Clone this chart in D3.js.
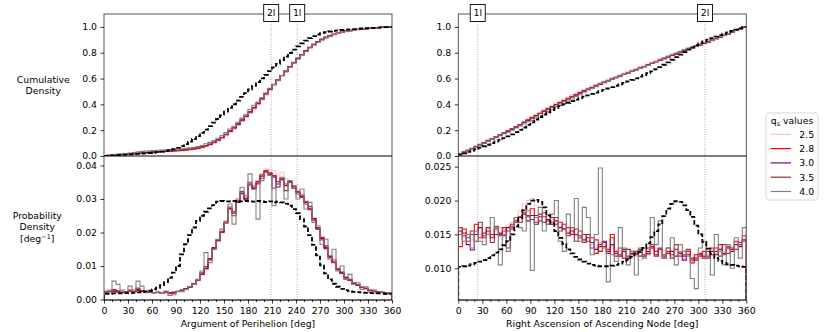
<!DOCTYPE html>
<html>
<head>
<meta charset="utf-8">
<script src="https://cdn.jsdelivr.net/npm/d3@7"></script>
<style>
  body { margin: 0; background: #fff; }
  svg { display: block; font-family: "DejaVu Sans", sans-serif; }
</style>
</head>
<body>
<svg id="chart" width="830" height="332"></svg>
<script>
// ---------- data (5 deg bins) ----------
const binStarts = d3.range(0, 360, 5);
const xTicks = [0, 30, 60, 90, 120, 150, 180, 210, 240, 270, 300, 330, 360];
const cdfTicks = [0, 0.2, 0.4, 0.6, 0.8, 1.0];
const periPdfTicks = [0, 0.01, 0.02, 0.03, 0.04];
const nodePdfTicks = [0.010, 0.015, 0.020, 0.025];

const qLabels = ["2.5", "2.8", "3.0", "3.5", "4.0"];
const qColors = ["#ffc0cb", "#ff0000", "#800080", "#a52a2a", "#808080"];

// vertical markers
const periMarks = [209, 241.5];
const periMarkLabels = ["2l", "1l"];
const nodeMarks = [24.3, 308.4];
const nodeMarkLabels = ["1l", "2l"];

// Argument of perihelion, probability density [deg^-1]
const periRef = [
  0.0017,0.0017,0.0018,0.0018,0.0018,0.0019,0.0019,0.0020,0.0021,0.0022,0.0024,0.0026,
  0.0030,0.0035,0.0043,0.0052,0.0065,0.0080,0.0100,0.0135,0.0165,0.0192,0.0215,0.0235,
  0.0250,0.0262,0.0272,0.0282,0.0292,0.0294,0.0293,0.0293,0.0294,0.0292,0.0293,0.0294,
  0.0293,0.0292,0.0294,0.0293,0.0291,0.0293,0.0290,0.0292,0.0290,0.0286,0.0280,0.0270,
  0.0258,0.0240,0.0218,0.0192,0.0163,0.0132,0.0102,0.0078,0.0060,0.0047,0.0038,0.0032,
  0.0028,0.0025,0.0023,0.0022,0.0021,0.0020,0.0019,0.0019,0.0018,0.0018,0.0017,0.0017
];
const peri25 = [
  0.0021,0.0022,0.0022,0.0023,0.0022,0.0022,0.0023,0.0024,0.0024,0.0023,0.0022,0.0021,
  0.0021,0.0020,0.0020,0.0020,0.0021,0.0021,0.0023,0.0026,0.0030,0.0036,0.0045,0.0056,
  0.0073,0.0090,0.0117,0.0150,0.0176,0.0205,0.0235,0.0268,0.0265,0.0290,0.0315,0.0305,
  0.0338,0.0335,0.0355,0.0375,0.0390,0.0388,0.0385,0.0372,0.0380,0.0360,0.0355,0.0340,
  0.0325,0.0310,0.0295,0.0270,0.0245,0.0215,0.0188,0.0158,0.0132,0.0112,0.0095,0.0080,
  0.0068,0.0058,0.0050,0.0043,0.0037,0.0033,0.0029,0.0026,0.0023,0.0021,0.0020,0.0019
];
const peri28 = [
  0.0022,0.0023,0.0024,0.0022,0.0021,0.0023,0.0025,0.0023,0.0027,0.0024,0.0021,0.0022,
  0.0020,0.0021,0.0019,0.0021,0.0020,0.0022,0.0024,0.0027,0.0032,0.0037,0.0046,0.0058,
  0.0075,0.0092,0.0120,0.0152,0.0178,0.0203,0.0232,0.0272,0.0262,0.0292,0.0318,0.0302,
  0.0342,0.0332,0.0352,0.0372,0.0385,0.0378,0.0370,0.0352,0.0362,0.0345,0.0352,0.0336,
  0.0322,0.0308,0.0292,0.0272,0.0242,0.0212,0.0185,0.0152,0.0130,0.0110,0.0092,0.0078,
  0.0066,0.0057,0.0049,0.0042,0.0037,0.0032,0.0028,0.0025,0.0023,0.0021,0.0020,0.0019
];
const peri30 = [
  0.0022,0.0024,0.0026,0.0023,0.0021,0.0022,0.0026,0.0024,0.0030,0.0025,0.0021,0.0023,
  0.0020,0.0021,0.0018,0.0022,0.0019,0.0021,0.0024,0.0028,0.0033,0.0037,0.0047,0.0058,
  0.0076,0.0093,0.0122,0.0155,0.0176,0.0200,0.0230,0.0270,0.0258,0.0290,0.0316,0.0298,
  0.0345,0.0330,0.0348,0.0368,0.0380,0.0374,0.0366,0.0336,0.0358,0.0340,0.0350,0.0332,
  0.0320,0.0305,0.0290,0.0268,0.0240,0.0210,0.0182,0.0155,0.0128,0.0112,0.0090,0.0080,
  0.0064,0.0058,0.0048,0.0043,0.0036,0.0033,0.0027,0.0026,0.0022,0.0021,0.0019,0.0019
];
const peri35 = [
  0.0023,0.0024,0.0030,0.0026,0.0022,0.0021,0.0028,0.0024,0.0034,0.0027,0.0021,0.0023,
  0.0020,0.0022,0.0018,0.0023,0.0017,0.0019,0.0024,0.0026,0.0031,0.0038,0.0046,0.0059,
  0.0080,0.0098,0.0118,0.0150,0.0175,0.0202,0.0228,0.0276,0.0250,0.0295,0.0322,0.0300,
  0.0350,0.0335,0.0345,0.0362,0.0382,0.0375,0.0332,0.0345,0.0360,0.0325,0.0352,0.0338,
  0.0315,0.0312,0.0285,0.0278,0.0235,0.0215,0.0178,0.0160,0.0125,0.0118,0.0088,0.0082,
  0.0062,0.0060,0.0046,0.0044,0.0035,0.0034,0.0026,0.0027,0.0021,0.0022,0.0018,0.0020
];
const peri40 = [
  0.0025,0.0028,0.0055,0.0045,0.0028,0.0020,0.0040,0.0028,0.0055,0.0040,0.0020,0.0028,
  0.0020,0.0022,0.0018,0.0025,0.0012,0.0014,0.0025,0.0023,0.0030,0.0038,0.0045,0.0060,
  0.0085,0.0140,0.0110,0.0150,0.0180,0.0210,0.0230,0.0285,0.0225,0.0300,0.0335,0.0310,
  0.0375,0.0340,0.0240,0.0355,0.0380,0.0370,0.0280,0.0345,0.0365,0.0300,0.0355,0.0340,
  0.0300,0.0330,0.0270,0.0290,0.0230,0.0220,0.0165,0.0180,0.0120,0.0150,0.0085,0.0100,
  0.0060,0.0075,0.0045,0.0050,0.0030,0.0038,0.0022,0.0028,0.0018,0.0022,0.0015,0.0020
];

// Right ascension of ascending node, probability density [deg^-1]
const nodeRef = [
  0.0102,0.0103,0.0104,0.0106,0.0108,0.0110,0.0112,0.0115,0.0119,0.0123,0.0128,0.0134,
  0.0140,0.0150,0.0162,0.0174,0.0186,0.0195,0.0200,0.0201,0.0198,0.0190,0.0178,0.0166,
  0.0155,0.0145,0.0136,0.0128,0.0122,0.0117,0.0113,0.0110,0.0107,0.0105,0.0104,0.0103,
  0.0103,0.0103,0.0104,0.0105,0.0107,0.0110,0.0113,0.0117,0.0122,0.0124,0.0130,0.0137,
  0.0146,0.0155,0.0165,0.0177,0.0188,0.0195,0.0199,0.0198,0.0193,0.0186,0.0176,0.0163,
  0.0150,0.0139,0.0129,0.0121,0.0115,0.0111,0.0108,0.0106,0.0105,0.0104,0.0103,0.0102
];
const node25 = [
  0.0150,0.0145,0.0148,0.0142,0.0155,0.0150,0.0140,0.0152,0.0148,0.0155,0.0160,0.0158,
  0.0162,0.0168,0.0172,0.0185,0.0195,0.0200,0.0203,0.0192,0.0190,0.0185,0.0180,0.0172,
  0.0170,0.0162,0.0165,0.0155,0.0152,0.0148,0.0145,0.0140,0.0150,0.0135,0.0130,0.0138,
  0.0135,0.0128,0.0132,0.0120,0.0125,0.0118,0.0128,0.0122,0.0118,0.0112,0.0120,0.0128,
  0.0122,0.0130,0.0118,0.0126,0.0122,0.0118,0.0125,0.0120,0.0115,0.0122,0.0110,0.0118,
  0.0115,0.0122,0.0120,0.0128,0.0122,0.0130,0.0125,0.0128,0.0132,0.0138,0.0140,0.0145
];
const node28 = [
  0.0132,0.0158,0.0140,0.0150,0.0165,0.0145,0.0152,0.0160,0.0150,0.0158,0.0150,0.0160,
  0.0155,0.0162,0.0170,0.0176,0.0185,0.0178,0.0188,0.0178,0.0180,0.0176,0.0170,0.0175,
  0.0165,0.0168,0.0158,0.0160,0.0150,0.0158,0.0145,0.0150,0.0140,0.0145,0.0122,0.0135,
  0.0138,0.0122,0.0150,0.0125,0.0120,0.0128,0.0118,0.0125,0.0122,0.0128,0.0120,0.0130,
  0.0132,0.0125,0.0130,0.0118,0.0125,0.0120,0.0128,0.0122,0.0118,0.0125,0.0112,0.0120,
  0.0118,0.0125,0.0118,0.0130,0.0125,0.0135,0.0120,0.0132,0.0128,0.0140,0.0135,0.0148
];
const node30 = [
  0.0155,0.0148,0.0135,0.0127,0.0150,0.0160,0.0148,0.0155,0.0145,0.0150,0.0152,0.0148,
  0.0160,0.0158,0.0168,0.0175,0.0180,0.0170,0.0178,0.0165,0.0176,0.0168,0.0172,0.0165,
  0.0170,0.0160,0.0158,0.0152,0.0155,0.0150,0.0148,0.0142,0.0145,0.0138,0.0128,0.0132,
  0.0140,0.0125,0.0135,0.0122,0.0118,0.0125,0.0115,0.0122,0.0120,0.0126,0.0118,0.0125,
  0.0130,0.0120,0.0128,0.0115,0.0122,0.0125,0.0118,0.0124,0.0112,0.0120,0.0115,0.0112,
  0.0120,0.0118,0.0115,0.0125,0.0120,0.0128,0.0122,0.0130,0.0125,0.0135,0.0132,0.0142
];
const node35 = [
  0.0160,0.0152,0.0145,0.0155,0.0140,0.0168,0.0145,0.0160,0.0138,0.0162,0.0148,0.0155,
  0.0130,0.0165,0.0175,0.0168,0.0182,0.0176,0.0172,0.0168,0.0170,0.0182,0.0165,0.0168,
  0.0175,0.0155,0.0165,0.0148,0.0160,0.0140,0.0155,0.0138,0.0150,0.0130,0.0142,0.0125,
  0.0132,0.0128,0.0145,0.0118,0.0130,0.0115,0.0128,0.0120,0.0125,0.0118,0.0130,0.0122,
  0.0135,0.0118,0.0128,0.0120,0.0130,0.0115,0.0135,0.0118,0.0120,0.0128,0.0108,0.0115,
  0.0122,0.0115,0.0125,0.0120,0.0130,0.0118,0.0135,0.0122,0.0130,0.0128,0.0138,0.0140
];
const node40 = [
  0.0150,0.0140,0.0150,0.0130,0.0155,0.0140,0.0135,0.0150,0.0175,0.0160,0.0105,0.0150,
  0.0125,0.0160,0.0175,0.0160,0.0155,0.0185,0.0097,0.0175,0.0190,0.0155,0.0165,0.0180,
  0.0200,0.0140,0.0125,0.0180,0.0160,0.0203,0.0140,0.0190,0.0175,0.0120,0.0150,0.0248,
  0.0130,0.0080,0.0120,0.0110,0.0160,0.0130,0.0105,0.0125,0.0090,0.0130,0.0115,0.0120,
  0.0175,0.0135,0.0170,0.0115,0.0130,0.0145,0.0105,0.0135,0.0125,0.0118,0.0085,0.0070,
  0.0130,0.0140,0.0115,0.0090,0.0150,0.0125,0.0105,0.0135,0.0100,0.0145,0.0115,0.0160
];

// ---------- layout ----------
const cdfTop = 14, split = 156, pdfBottom = 300;
const fontSize = 9.3;

const columns = [
  {
    id: "peri", left: 104, right: 392,
    ref: periRef, series: [peri25, peri28, peri30, peri35, peri40],
    pdfDomain: [-0.00015, 0.04284], pdfTicks: periPdfTicks, pdfFormat: ".2f",
    marks: periMarks, markLabels: periMarkLabels,
    xLabel: "Argument of Perihelion [deg]"
  },
  {
    id: "node", left: 458.3, right: 746.3,
    ref: nodeRef, series: [node25, node28, node30, node35, node40],
    pdfDomain: [0.00532, 0.02658], pdfTicks: nodePdfTicks, pdfFormat: ".3f",
    marks: nodeMarks, markLabels: nodeMarkLabels,
    xLabel: "Right Ascension of Ascending Node [deg]"
  }
];

const svg = d3.select("#chart");
const defs = svg.append("defs");

function toCdf(vals) {
  const cs = Array.from(d3.cumsum(vals));
  const total = cs[cs.length - 1];
  return cs.map((v) => v / total);
}

function pdfPoints(vals) {
  const pts = [[0, 0]];
  vals.forEach((v, i) => pts.push([binStarts[i], v]));
  pts.push([360, vals[vals.length - 1]]);
  pts.push([360, 0]);
  return pts;
}

function cdfPoints(vals) {
  const c = toCdf(vals);
  const pts = [[0, 0]];
  c.forEach((v, i) => pts.push([binStarts[i], v]));
  pts.push([360, 1]);
  return pts;
}

function styleAxis(g) {
  g.select(".domain").remove();
  g.selectAll("line").attr("stroke", "#000").attr("stroke-width", 0.8);
  g.selectAll("text")
    .attr("font-size", fontSize)
    .attr("font-family", "DejaVu Sans, sans-serif")
    .attr("fill", "#000");
}

columns.forEach((cfg) => {
  const x = d3.scaleLinear().domain([0, 360]).range([cfg.left, cfg.right]);
  const yC = d3.scaleLinear().domain([0, 1.1]).range([split, cdfTop]);
  const yP = d3.scaleLinear().domain(cfg.pdfDomain).range([pdfBottom, split]);
  const w = cfg.right - cfg.left;

  // clip regions
  defs.append("clipPath").attr("id", `clip-${cfg.id}-cdf`)
    .append("rect").attr("x", cfg.left).attr("y", cdfTop).attr("width", w).attr("height", split - cdfTop);
  defs.append("clipPath").attr("id", `clip-${cfg.id}-pdf`)
    .append("rect").attr("x", cfg.left).attr("y", split).attr("width", w).attr("height", pdfBottom - split);

  const g = svg.append("g");

  // dotted marker lines through both panels
  g.selectAll(".mark")
    .data(cfg.marks)
    .enter()
    .append("line")
    .attr("x1", (d) => x(d)).attr("x2", (d) => x(d))
    .attr("y1", cdfTop).attr("y2", pdfBottom)
    .attr("stroke", "#aaa")
    .attr("stroke-width", 1)
    .attr("stroke-dasharray", "1,1.5");

  const lineC = d3.line().x((d) => x(d[0])).y((d) => yC(d[1])).curve(d3.curveStepAfter);
  const lineP = d3.line().x((d) => x(d[0])).y((d) => yP(d[1])).curve(d3.curveStepAfter);

  const gC = g.append("g").attr("clip-path", `url(#clip-${cfg.id}-cdf)`);
  const gP = g.append("g").attr("clip-path", `url(#clip-${cfg.id}-pdf)`);

  cfg.series.forEach((vals, i) => {
    gC.append("path")
      .attr("d", lineC(cdfPoints(vals)))
      .attr("fill", "none")
      .attr("stroke", qColors[i])
      .attr("stroke-width", i === 0 ? 2 : 1.1);
    gP.append("path")
      .attr("d", lineP(pdfPoints(vals)))
      .attr("fill", "none")
      .attr("stroke", qColors[i])
      .attr("stroke-width", 1.1);
  });

  gC.append("path")
    .attr("d", lineC(cdfPoints(cfg.ref)))
    .attr("fill", "none")
    .attr("stroke", "#000")
    .attr("stroke-width", 1.8)
    .attr("stroke-dasharray", "4.5,2.2");
  gP.append("path")
    .attr("d", lineP(pdfPoints(cfg.ref)))
    .attr("fill", "none")
    .attr("stroke", "#000")
    .attr("stroke-width", 1.8)
    .attr("stroke-dasharray", "4.5,2.2");

  // frames
  g.append("rect")
    .attr("x", cfg.left).attr("y", cdfTop).attr("width", w).attr("height", pdfBottom - cdfTop)
    .attr("fill", "none").attr("stroke", "#555").attr("stroke-width", 1);
  g.append("line")
    .attr("x1", cfg.left).attr("x2", cfg.right).attr("y1", split).attr("y2", split)
    .attr("stroke", "#000").attr("stroke-width", 1.2);
  g.append("line")
    .attr("x1", cfg.left).attr("x2", cfg.right).attr("y1", pdfBottom).attr("y2", pdfBottom)
    .attr("stroke", "#222").attr("stroke-width", 1);

  // axes
  g.append("g")
    .attr("transform", `translate(${cfg.left},0)`)
    .call(d3.axisLeft(yC).tickValues(cdfTicks).tickFormat(d3.format(".1f")).tickSize(3.5).tickPadding(3.5))
    .call(styleAxis);
  g.append("g")
    .attr("transform", `translate(${cfg.left},0)`)
    .call(d3.axisLeft(yP).tickValues(cfg.pdfTicks).tickFormat(d3.format(cfg.pdfFormat)).tickSize(3.5).tickPadding(3.5))
    .call(styleAxis);
  g.append("g")
    .attr("transform", `translate(0,${pdfBottom})`)
    .call(d3.axisBottom(x).tickValues(xTicks).tickFormat(d3.format("d")).tickSize(3.5).tickPadding(3.5))
    .call(styleAxis);
  g.append("g")
    .attr("transform", `translate(0,${pdfBottom})`)
    .call(d3.axisBottom(x).tickValues(d3.range(0, 361, 10).filter((v) => v % 30 !== 0)).tickFormat("").tickSize(2))
    .call(styleAxis);

  g.append("text")
    .attr("x", (cfg.left + cfg.right) / 2)
    .attr("y", 326.5)
    .attr("text-anchor", "middle")
    .attr("font-size", fontSize)
    .text(cfg.xLabel);

  // marker label boxes on top spine
  const boxes = g.selectAll(".markbox")
    .data(cfg.marks.map((m, i) => ({ m, label: cfg.markLabels[i] })))
    .enter()
    .append("g");
  boxes.append("rect")
    .attr("x", (d) => x(d.m) - 7.5)
    .attr("y", 4.5)
    .attr("width", 15)
    .attr("height", 17)
    .attr("fill", "#fff")
    .attr("stroke", "#000")
    .attr("stroke-width", 0.9);
  boxes.append("text")
    .attr("x", (d) => x(d.m))
    .attr("y", 16.3)
    .attr("text-anchor", "middle")
    .attr("font-size", fontSize)
    .text((d) => d.label);
});

// y labels (horizontal)
const yl1 = svg.append("text").attr("text-anchor", "middle").attr("font-size", fontSize);
yl1.append("tspan").attr("x", 43.3).attr("y", 82.5).text("Cumulative");
yl1.append("tspan").attr("x", 43.3).attr("y", 93.7).text("Density");

const yl2 = svg.append("text").attr("text-anchor", "middle").attr("font-size", fontSize);
yl2.append("tspan").attr("x", 37.3).attr("y", 219.2).text("Probability");
yl2.append("tspan").attr("x", 37.3).attr("y", 230.2).text("Density");
const yl2c = yl2.append("tspan").attr("x", 37.3).attr("y", 242);
yl2c.append("tspan").text("[deg");
yl2c.append("tspan").attr("font-size", 6.5).attr("dy", -3.5).text("−1");
yl2c.append("tspan").attr("dy", 3.5).text("]");

// legend
const lg = svg.append("g").attr("transform", "translate(766,113)");
lg.append("rect")
  .attr("width", 52).attr("height", 87).attr("rx", 2.5)
  .attr("fill", "#fff").attr("stroke", "#ccc").attr("stroke-width", 0.8);
const lt = lg.append("text").attr("x", 26).attr("y", 10.5).attr("text-anchor", "middle").attr("font-size", fontSize);
lt.append("tspan").text("q");
lt.append("tspan").attr("font-size", 6.5).attr("dy", 2).text("s");
lt.append("tspan").attr("dy", -2).text(" values");

const rows = lg.selectAll(".row")
  .data(qLabels.map((q, i) => ({ q, c: qColors[i] })))
  .enter()
  .append("g")
  .attr("transform", (d, i) => `translate(0,${21.3 + i * 14.3})`);
rows.append("line")
  .attr("x1", 4.7).attr("x2", 25)
  .attr("stroke", (d) => d.c).attr("stroke-width", 1.2);
rows.append("text")
  .attr("x", 33.3).attr("y", 3.4)
  .attr("font-size", fontSize)
  .text((d) => d.q);
</script>
</body>
</html>
